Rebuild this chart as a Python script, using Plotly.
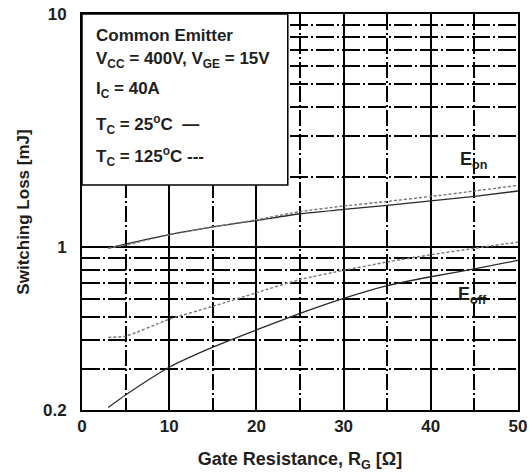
import plotly.graph_objects as go
import math

# Gate resistance [ohm]
rg = [3, 5, 10, 15, 20, 25, 30, 35, 40, 45, 50]
# Switching losses [mJ]
eon_25 = [0.99, 1.03, 1.13, 1.22, 1.30, 1.39, 1.45, 1.51, 1.58, 1.65, 1.74]
eon_125 = [0.99, 1.02, 1.13, 1.22, 1.31, 1.42, 1.50, 1.57, 1.65, 1.74, 1.84]
eoff_25 = [0.205, 0.232, 0.305, 0.372, 0.441, 0.519, 0.602, 0.683, 0.746, 0.806, 0.877]
eoff_125 = [0.41, 0.415, 0.49, 0.557, 0.637, 0.726, 0.795, 0.863, 0.927, 0.988, 1.05]

x_ticks = [0, 10, 20, 30, 40, 50]
x_minor = [5, 15, 25, 35, 45]
y_ticks = [0.2, 1, 10]
y_ticktext = ["0.2", "1", "10"]
y_minor = [0.3, 0.4, 0.5, 0.6, 0.7, 0.8, 0.9, 2, 3, 4, 5, 6, 7, 8, 9]

FONT = "Liberation Sans, Arial, sans-serif"
TXT = "#1e1e1e"
FS = 17

fig = go.Figure()
solid = dict(color="#2a2a2a", width=1.3)
dashed = dict(color="#777777", width=1.4, dash="3px,2px")
fig.add_trace(go.Scatter(x=rg, y=eon_25, mode="lines", line=dict(**solid, shape="spline", smoothing=0.6)))
fig.add_trace(go.Scatter(x=rg, y=eon_125, mode="lines", line=dict(**dashed, shape="spline", smoothing=0.6)))
fig.add_trace(go.Scatter(x=rg, y=eoff_25, mode="lines", line=dict(**solid, shape="spline", smoothing=0.6)))
fig.add_trace(go.Scatter(x=rg, y=eoff_125, mode="lines", line=dict(**dashed, shape="spline", smoothing=0.6)))

fig.update_layout(
    width=530, height=473,
    margin=dict(l=82, r=12, t=14, b=63, autoexpand=False),
    paper_bgcolor="white", plot_bgcolor="white",
    showlegend=False,
    font=dict(family=FONT, color=TXT, size=FS),
)
fig.update_xaxes(
    automargin=False,
    range=[0, 50], tickmode="array", tickvals=x_ticks,
    showline=True, mirror=True, linecolor="black", linewidth=2,
    showgrid=True, gridcolor="black", gridwidth=2,
    zeroline=False, ticks="", ticklabelstandoff=0,
    tickfont=dict(family=FONT, size=FS, weight="bold", color=TXT),
    minor=dict(tickmode="array", tickvals=x_minor, showgrid=True,
               gridcolor="black", gridwidth=1.7, griddash="16px,3px,2px,3px"),
    title=dict(text="Gate Resistance, R<sub>G</sub> [Ω]", standoff=17,
               font=dict(family=FONT, size=18, weight="bold", color=TXT)),
)
fig.update_yaxes(
    automargin=False,
    type="log", range=[math.log10(0.2), 1],
    tickmode="array", tickvals=y_ticks, ticktext=y_ticktext,
    showline=True, mirror=True, linecolor="black", linewidth=2,
    showgrid=True, gridcolor="black", gridwidth=2,
    zeroline=False, ticks="", ticklabelstandoff=10,
    tickfont=dict(family=FONT, size=FS, weight="bold", color=TXT),
    minor=dict(tickmode="array", tickvals=y_minor, showgrid=True,
               gridcolor="black", gridwidth=1.7, griddash="18px,3px,2px,3px"),
    title=dict(text="Switching Loss [mJ]", standoff=9,
               font=dict(family=FONT, size=FS, weight="bold", color=TXT)),
)

# condition box
fig.add_shape(type="rect", xref="paper", yref="paper", x0=0, x1=0.472, y0=0.568, y1=1,
              fillcolor="white", line=dict(color="black", width=1.5), layer="above")

legend_lines = [
    ("Common Emitter", 0.946),
    ("V<sub>CC</sub> = 400V, V<sub>GE</sub> = 15V", 0.885),
    ("I<sub>C</sub> = 40A", 0.807),
    ("T<sub>C</sub> = 25<sup>o</sup>C  —", 0.722),
    ("T<sub>C</sub> = 125<sup>o</sup>C ---", 0.641),
]
for txt, yp in legend_lines:
    fig.add_annotation(text=txt, xref="x", yref="paper", x=1.35, y=yp,
                       xanchor="left", yanchor="middle", showarrow=False,
                       font=dict(family=FONT, size=FS, weight="bold", color=TXT))

fig.add_annotation(text="E<sub>on</sub>", xref="x", yref="paper", x=43.1, y=0.631,
                   xanchor="left", yanchor="middle", showarrow=False,
                   font=dict(family=FONT, size=18, weight="bold", color=TXT))
fig.add_annotation(text="E<sub>off</sub>", xref="x", yref="paper", x=42.9, y=0.290,
                   xanchor="left", yanchor="middle", showarrow=False,
                   font=dict(family=FONT, size=18, weight="bold", color=TXT))

fig.write_html("out.html")
